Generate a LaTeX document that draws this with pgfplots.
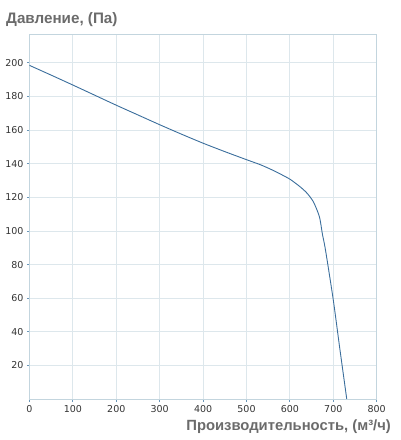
\documentclass[border=0pt]{standalone}
\usepackage{pgfplots}
\pgfplotsset{compat=1.18}
\usepackage{fontspec}
\setmainfont{DejaVu Sans}
\newfontfamily\arialfont{Liberation Sans}
\definecolor{gridc}{HTML}{DDE7EC}
\definecolor{axc}{HTML}{C3D5DE}
\definecolor{tickc}{HTML}{6A96B8}
\definecolor{linec}{HTML}{3B6E9C}
\definecolor{txt}{HTML}{333333}
\definecolor{lbl}{HTML}{6B6B6B}
\begin{document}
\begin{tikzpicture}[x=1pt,y=1pt]
\useasboundingbox (0,0) rectangle (401,440);
\begin{axis}[
  at={(29.5pt,41pt)}, anchor=south west,
  scale only axis, width=347.2pt, height=364.7pt,
  xmin=0, xmax=800, ymin=0, ymax=217,
  xtick={0,100,...,800}, ytick={20,40,...,200},
  grid=major, major grid style={gridc, line width=0.8pt},
  axis line style={axc, line width=0.8pt},
  tick style={tickc, line width=0.8pt},
  tick align=outside, major tick length=2.5pt,
  xtick pos=bottom, ytick pos=left,
  ticklabel style={font=\fontsize{9.5}{10}\selectfont, text=txt},
  /pgf/number format/assume math mode=true,
  clip=true,
]
\addplot[linec, line width=0.9pt, smooth, tension=0.4] coordinates {
(0,198.5) (50,192.7) (100,186.8) (150,180.8) (200,174.8) (250,169.0) (300,163.2)
(350,157.6) (400,152.2) (450,147.2) (500,142.4) (531,139.5) (555,136.8)
(577,134.0) (600,130.8) (623,126.4) (639,122.6) (654,117.4) (668,108.5)
(675,98) (682,88.7) (700,58.9) (715,30) (731,0)
};
\end{axis}
\node[anchor=west, inner sep=0pt, text=lbl, font=\arialfont\bfseries\fontsize{15.2}{17}\selectfont] at (6,420) {Давление, (Па)};
\node[anchor=east, inner sep=0pt, text=lbl, font=\arialfont\bfseries\fontsize{14.8}{17}\selectfont] at (391,13) {Производительность, (м³/ч)};
\end{tikzpicture}
\end{document}
